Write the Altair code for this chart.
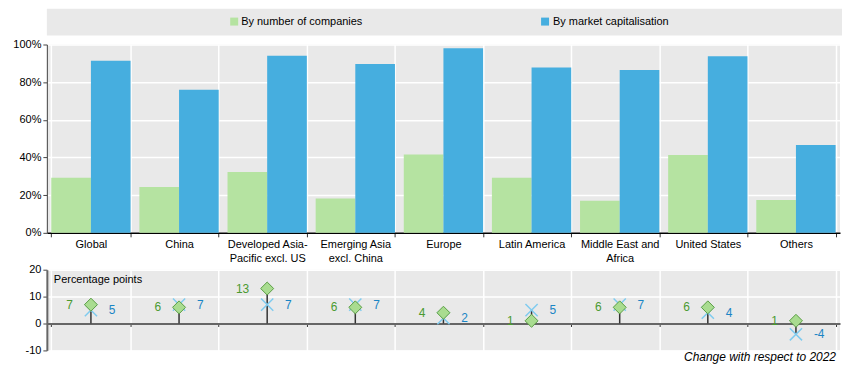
import altair as alt
import pandas as pd

categories = ["Global", "China", "Developed Asia-Pacific excl. US", "Emerging Asia excl. China",
              "Europe", "Latin America", "Middle East and Africa", "United States", "Others"]
cat_labels = ["Global", "China", "Developed Asia-|Pacific excl. US", "Emerging  Asia|excl. China",
              "Europe", "Latin America", "Middle East and|Africa", "United States", "Others"]
series = ["By number of companies", "By market capitalisation"]
share_companies = [29.3, 24.3, 32.3, 18.2, 41.6, 29.3, 17.0, 41.3, 17.5]
share_mcap = [91.4, 76.0, 94.0, 89.6, 98.0, 87.8, 86.4, 93.7, 46.6]
change_companies = [7, 6, 13, 6, 4, 1, 6, 6, 1]
change_mcap = [5, 7, 7, 7, 2, 5, 7, 4, -4]

GREEN = "#b5e3a1"
BLUE = "#46aedf"
FONT = "Liberation Sans Narrow, Arial Narrow, Liberation Sans, sans-serif"
W = 796

bars = pd.DataFrame({
    "label": cat_labels * 2,
    "series": [series[0]] * 9 + [series[1]] * 9,
    "value": share_companies + share_mcap,
})
chg = pd.DataFrame({
    "label": cat_labels,
    "comp": change_companies,
    "mcap": change_mcap,
})
chg["lo"] = chg[["comp", "mcap"]].min(axis=1).clip(upper=0)
chg["hi"] = chg[["comp", "mcap"]].max(axis=1).clip(lower=0)
chg["comp_txt"] = chg["comp"].astype(str)
chg["mcap_txt"] = chg["mcap"].astype(str)

xband = alt.Scale(domain=cat_labels, paddingInner=0.1, paddingOuter=0.05)

# legend panel
one = pd.DataFrame({"a": [0]})
leg_base = alt.Chart(one)
legend = alt.layer(
    leg_base.mark_square(size=64, color=GREEN, opacity=1).encode(x=alt.value(188), y=alt.value(13)),
    leg_base.mark_text(align="left", baseline="middle", fontSize=11, font=FONT, color="#000")
        .encode(x=alt.value(195), y=alt.value(13), text=alt.value(series[0])),
    leg_base.mark_square(size=64, color=BLUE, opacity=1).encode(x=alt.value(500), y=alt.value(13)),
    leg_base.mark_text(align="left", baseline="middle", fontSize=11, font=FONT, color="#000")
        .encode(x=alt.value(508), y=alt.value(13), text=alt.value(series[1])),
).properties(width=W + 2, height=27)

top = alt.Chart(bars).mark_bar().encode(
    x=alt.X("label:N", scale=xband, sort=cat_labels,
            axis=alt.Axis(title=None, labelAngle=0, labelExpr="split(datum.label, '|')",
                          tickBand="extent", grid=True, gridColor="white", gridWidth=1.5,
                          domainColor="#000", domainWidth=1.5, tickColor="#333", tickSize=4,
                          labelFontSize=11, labelLineHeight=14, labelPadding=2, labelFont=FONT)),
    xOffset=alt.XOffset("series:N", sort=series, scale=alt.Scale(paddingInner=0)),
    y=alt.Y("value:Q", scale=alt.Scale(domain=[0, 100]),
            axis=alt.Axis(title=None, values=[0, 20, 40, 60, 80, 100], labelExpr="datum.value + '%'",
                          gridColor="white", gridWidth=1.5, domainColor="#444", tickColor="#444",
                          tickSize=4, labelFontSize=11, labelFont=FONT, minExtent=39)),
    color=alt.Color("series:N", scale=alt.Scale(domain=series, range=[GREEN, BLUE]), legend=None),
).properties(width=W, height=189)

H2 = 81
xb = alt.X("label:N", scale=xband, sort=cat_labels,
           axis=alt.Axis(title=None, labels=False, tickBand="extent", grid=True, gridColor="white",
                         gridWidth=1.5, domainColor="#666", domainWidth=2, tickColor="#333",
                         tickSize=3, offset=-H2 / 3))
yscale = alt.Scale(domain=[-10, 20])
yaxis = alt.Axis(title=None, values=[-10, 0, 10, 20], labelExpr="'' + datum.value",
                 gridColor="white", gridWidth=1.5, domainColor="#666", domainWidth=2,
                 tickColor="#444", tickSize=4, labelFontSize=11, labelFont=FONT, minExtent=39)
base2 = alt.Chart(chg)
stems = base2.mark_rule(color="#333", strokeWidth=1.5).encode(
    x=xb, y=alt.Y("lo:Q", scale=yscale, axis=yaxis), y2="hi:Q")
xs = base2.mark_point(shape="M-1,-1L1,1M1,-1L-1,1", size=150, color="#7fcbef", strokeWidth=1.5,
                      opacity=1).encode(x=xb, y=alt.Y("mcap:Q", scale=yscale, axis=yaxis))
dia = base2.mark_point(shape="diamond", size=170, filled=True, fill="#a9dc90", stroke="#5a9e44",
                       strokeWidth=1, opacity=1).encode(x=xb, y=alt.Y("comp:Q", scale=yscale, axis=yaxis))
tcomp = base2.mark_text(align="right", baseline="middle", dx=-18, fontSize=12, font=FONT,
                        color="#4a9a30").encode(x=xb, y=alt.Y("comp:Q", scale=yscale, axis=yaxis),
                                                text="comp_txt:N")
tmcap = base2.mark_text(align="left", baseline="middle", dx=18, fontSize=12, font=FONT,
                        color="#1a85c5").encode(x=xb, y=alt.Y("mcap:Q", scale=yscale, axis=yaxis),
                                                text="mcap_txt:N")
ptitle = alt.Chart(one).mark_text(align="left", baseline="top", fontSize=11, font=FONT, color="#000").encode(
    x=alt.value(7), y=alt.value(4), text=alt.value("Percentage points"))
note = alt.Chart(one).mark_text(align="right", baseline="top", fontSize=12, font=FONT, fontStyle="italic",
                                color="#000").encode(
    x=alt.value(W - 4), y=alt.value(H2 + 2), text=alt.value("Change with respect to 2022"))
bottom = alt.layer(stems, xs, dia, tcomp, tmcap, ptitle, note).properties(width=W, height=H2)

chart = alt.vconcat(
    legend,
    alt.vconcat(top, bottom, spacing=0),
    spacing=3,
).properties(padding=0).configure(font=FONT).configure_view(fill="#e9e9e9", strokeWidth=0)

chart.save("out.html", embed_options={"renderer": "svg", "actions": False})
